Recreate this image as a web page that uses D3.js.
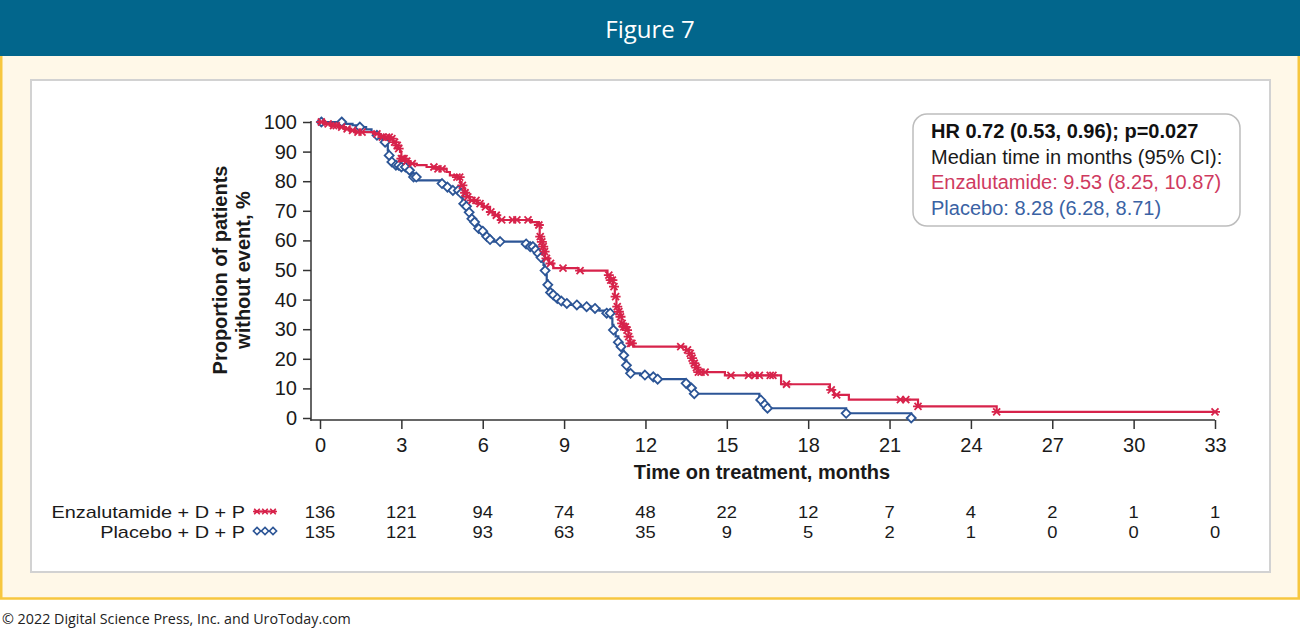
<!DOCTYPE html>
<html>
<head>
<meta charset="utf-8">
<script src="https://cdn.jsdelivr.net/npm/d3@7"></script>
<style>
  body { margin: 0; background: #fff; }
  svg { display: block; }
  .ax text { font-family: "Liberation Sans", Arial, sans-serif; font-size: 20px; fill: #1a1a1a; }
  .ax line, .ax path { stroke: #333; stroke-width: 1.5; }
</style>
</head>
<body>
<svg id="chart" width="1300" height="629"></svg>
<script>
// survival steps: [months, % without event after the step]
const enzaSteps = [
  [0, 100], [0.2, 99.4], [0.45, 98.8], [0.7, 98.3], [0.95, 97.7], [1.15, 97.2], [1.25, 96.6],
  [2.0, 96.0], [2.2, 95.4], [2.3, 94.9], [2.6, 94.4], [2.7, 93.2], [2.78, 92.1], [2.87, 91.0],
  [2.95, 89.9], [3.0, 87.6], [3.15, 86.8], [3.32, 85.9], [3.57, 85.4], [3.93, 84.8], [4.3, 84.2],
  [4.67, 83.1], [4.79, 82.0], [5.04, 81.4], [5.16, 79.7], [5.22, 78.6], [5.28, 77.5], [5.35, 76.1],
  [5.41, 74.7], [5.53, 73.5], [5.78, 72.4], [6.02, 71.3], [6.27, 69.6], [6.45, 68.5], [6.6, 66.9],
  [7.75, 66.2], [8.07, 65.2], [8.1, 61.3], [8.15, 59.5], [8.2, 57.9], [8.25, 56.2], [8.3, 53.9],
  [8.45, 52.2], [8.6, 50.6], [9.53, 49.8], [10.6, 48.3], [10.7, 46.6], [10.8, 44.4], [10.87, 41.0],
  [10.93, 37.6], [11.0, 35.9], [11.06, 34.2], [11.12, 32.0], [11.2, 30.8], [11.3, 29.7], [11.37, 27.5],
  [11.43, 25.2], [11.55, 24.1], [13.5, 23.0], [13.6, 21.8], [13.7, 20.2], [13.75, 18.5], [13.85, 17.0],
  [13.95, 15.5], [14.93, 14.4], [17.0, 11.4], [18.8, 9.5], [18.95, 7.8], [19.5, 6.2], [22.05, 3.9],
  [24.95, 2.1], [33.05, 2.1]
];
const enzaCensor = [
  0.05, 0.3, 0.5, 0.6, 0.8, 1.0, 1.2, 1.4, 1.55, 2.1, 2.3, 2.45, 2.55, 2.65, 2.75, 2.85, 2.9, 3.0,
  3.05, 3.1, 3.2, 3.4, 4.2, 4.35, 4.5, 5.05, 5.15, 5.25, 5.35, 5.45, 5.6, 5.75, 5.9, 6.1, 6.3, 6.5,
  6.7, 7.1, 7.26, 7.67, 8.07, 8.12, 8.18, 8.23, 8.28, 8.35, 8.5, 8.96, 9.59, 10.65, 10.72, 10.78,
  10.84, 10.9, 10.96, 11.02, 11.08, 11.14, 11.2, 11.26, 11.32, 11.38, 11.45, 11.5, 13.3, 13.55,
  13.65, 13.72, 13.8, 13.88, 13.95, 14.05, 14.2, 15.15, 15.8, 16.04, 16.2, 16.6, 16.7, 17.2,
  18.85, 19.05, 21.4, 21.6, 22.05, 24.95, 33.0
];
const placSteps = [
  [0, 100], [0.9, 99.4], [1.2, 98.9], [1.47, 98.3], [1.7, 97.5], [1.9, 96.6], [2.09, 95.5],
  [2.21, 94.4], [2.35, 93.2], [2.46, 92.1], [2.5, 90.4], [2.52, 88.7], [2.58, 86.5], [2.77, 85.4],
  [2.95, 84.8], [3.2, 83.7], [3.32, 82.5], [3.45, 81.4], [3.57, 80.3], [4.45, 79.2], [4.65, 78.0],
  [4.9, 76.9], [5.15, 75.9], [5.22, 75.0], [5.25, 73.7], [5.28, 72.4], [5.35, 71.5], [5.41, 70.6],
  [5.47, 69.5], [5.53, 68.5], [5.6, 67.3], [5.65, 66.2], [5.72, 65.1], [5.78, 64.0], [5.9, 63.1],
  [6.02, 62.3], [6.15, 61.3], [6.27, 60.3], [6.4, 59.6], [7.56, 58.8], [7.74, 57.9], [7.88, 56.8],
  [7.99, 55.6], [8.08, 54.2], [8.17, 52.8], [8.24, 51.7], [8.28, 49.8], [8.32, 48.3], [8.36, 46.6],
  [8.39, 45.0], [8.42, 43.2], [8.48, 42.4], [8.54, 41.6], [8.63, 41.0], [8.73, 40.4], [8.85, 39.5],
  [8.97, 38.7], [9.22, 38.2], [9.6, 37.6], [10.0, 37.0], [10.3, 36.3], [10.57, 35.4], [10.72, 33.7],
  [10.78, 31.5], [10.82, 29.7], [10.9, 27.6], [11.0, 25.6], [11.05, 24.1], [11.12, 22.8], [11.2, 21.2],
  [11.25, 19.5], [11.3, 17.8], [11.33, 16.2], [11.45, 15.1], [11.8, 14.5], [12.2, 13.9], [12.45, 13.1],
  [13.47, 11.7], [13.6, 10.1], [13.75, 8.2], [16.2, 6.1], [16.35, 4.5], [16.47, 3.3], [19.4, 1.6],
  [21.8, 0]
];
const placCensor = [
  0.05, 0.8, 1.47, 2.1, 2.4, 2.55, 2.65, 2.8, 2.9, 3.0, 3.15, 3.3, 3.45, 3.55, 4.5, 4.7, 4.9, 5.1,
  5.2, 5.3, 5.4, 5.5, 5.6, 5.7, 5.85, 6.0, 6.15, 6.27, 6.64, 7.6, 7.75, 7.85, 7.95, 8.05, 8.15, 8.3,
  8.4, 8.5, 8.6, 8.75, 8.9, 9.1, 9.47, 9.83, 10.14, 10.57, 10.7, 10.82, 11.0, 11.1, 11.2, 11.3,
  11.45, 11.98, 12.29, 12.45, 13.5, 13.7, 13.8, 16.25, 16.4, 16.5, 19.4, 21.8
];

const xTicks = [0, 3, 6, 9, 12, 15, 18, 21, 24, 27, 30, 33];
const yTicks = [0, 10, 20, 30, 40, 50, 60, 70, 80, 90, 100];
const enzaAtRisk = [136, 121, 94, 74, 48, 22, 12, 7, 4, 2, 1, 1];
const placAtRisk = [135, 121, 93, 63, 35, 9, 5, 2, 1, 0, 0, 0];

const RED = '#d7234b';
const BLUE = '#2c5596';
const XMARK = 'M-3.5,-3.5L3.5,3.5M-3.5,3.5L3.5,-3.5M-5,0L5,0';
const DIAMOND = 'M0,-4.5L4.5,0L0,4.5L-4.5,0Z';

const svg = d3.select('#chart');

// page frame
svg.append('rect').attr('x', 1.25).attr('y', 50).attr('width', 1297.5).attr('height', 548.5)
  .attr('fill', '#fff8e8').attr('stroke', '#f7c73f').attr('stroke-width', 2.5);
svg.append('rect').attr('x', 0).attr('y', 0).attr('width', 1300).attr('height', 56).attr('fill', '#02668c');
svg.append('text').attr('x', 650).attr('y', 38).attr('text-anchor', 'middle')
  .style('font-family', '"Open Sans", "Noto Sans", sans-serif').style('font-size', '24px')
  .style('font-weight', 500).attr('fill', '#fff').text('Figure 7');
svg.append('rect').attr('x', 31).attr('y', 80).attr('width', 1239).attr('height', 492)
  .attr('fill', '#fff').attr('stroke', '#d2d2d2').attr('stroke-width', 2);
svg.append('text').attr('x', 2).attr('y', 624)
  .style('font-family', '"Open Sans", "Noto Sans", sans-serif').style('font-size', '14.3px')
  .attr('fill', '#222').text('© 2022 Digital Science Press, Inc. and UroToday.com');

const x = d3.scaleLinear().domain([0, 33]).range([320, 1215]);
const y = d3.scaleLinear().domain([0, 100]).range([418, 122]);

// axes
const gy = svg.append('g').attr('class', 'ax').attr('transform', 'translate(311,0)')
  .call(d3.axisLeft(y).tickValues(yTicks).tickSize(8).tickPadding(6).tickSizeOuter(0));
gy.select('.domain').remove();
gy.append('line').attr('x1', 0).attr('x2', 0).attr('y1', 121).attr('y2', 420.75);

const gx = svg.append('g').attr('class', 'ax').attr('transform', 'translate(0,420)')
  .call(d3.axisBottom(x).tickValues(xTicks).tickSize(9).tickPadding(8.5).tickSizeOuter(0));
gx.select('.domain').remove();
gx.append('line').attr('x1', 310.25).attr('x2', x(33)).attr('y1', 0).attr('y2', 0);

const titleFont = '"Liberation Sans", Arial, sans-serif';
svg.append('text').attr('x', 762).attr('y', 479).attr('text-anchor', 'middle')
  .style('font-family', titleFont).style('font-size', '20px').style('font-weight', 'bold')
  .attr('fill', '#1a1a1a').text('Time on treatment, months');
[['Proportion of patients', 227], ['without event, %', 250]].forEach(([t, bx]) => {
  svg.append('text').attr('transform', `translate(${bx},270) rotate(-90)`).attr('text-anchor', 'middle')
    .style('font-family', titleFont).style('font-size', '20px').style('font-weight', 'bold')
    .attr('fill', '#1a1a1a').text(t);
});

// curves
function survAt(steps, t) {
  let v = steps[0][1];
  for (const s of steps) { if (s[0] <= t) v = s[1]; else break; }
  return v;
}
const stepLine = d3.line().x(d => x(d[0])).y(d => y(d[1])).curve(d3.curveStepAfter);

function drawArm(steps, censor, color, mark, fill) {
  const g = svg.append('g');
  g.append('path').attr('d', stepLine(steps)).attr('fill', 'none')
    .attr('stroke', color).attr('stroke-width', 2.2);
  g.selectAll('path.m').data(censor).join('path').attr('class', 'm')
    .attr('transform', t => `translate(${x(t)},${y(survAt(steps, t))})`)
    .attr('d', mark).attr('fill', fill).attr('stroke', color).attr('stroke-width', 1.8);
}
drawArm(placSteps, placCensor, BLUE, DIAMOND, '#fff');
drawArm(enzaSteps, enzaCensor, RED, XMARK, 'none');

// stats box
svg.append('rect').attr('x', 913).attr('y', 114).attr('width', 327).attr('height', 112).attr('rx', 14)
  .attr('fill', '#fff').attr('stroke', '#bdbdbd').attr('stroke-width', 1.5);
const boxLines = [
  ['HR 0.72 (0.53, 0.96); p=0.027', '#111', 'bold'],
  ['Median time in months (95% CI):', '#1a1a1a', 'normal'],
  ['Enzalutamide: 9.53 (8.25, 10.87)', '#cf3a5f', 'normal'],
  ['Placebo: 8.28 (6.28, 8.71)', '#3a62a4', 'normal']
];
svg.selectAll('text.box').data(boxLines).join('text').attr('class', 'box')
  .attr('x', 931).attr('y', (d, i) => 138 + i * 25.5)
  .style('font-family', titleFont).style('font-size', '20px')
  .style('font-weight', d => d[2]).attr('fill', d => d[1]).text(d => d[0]);

// number at risk (rows sit tight, so a smaller font stretched sideways)
const rows = [
  {label: 'Enzalutamide + D + P', vals: enzaAtRisk, color: RED, mark: XMARK, fill: 'none', yb: 518},
  {label: 'Placebo + D + P', vals: placAtRisk, color: BLUE, mark: DIAMOND, fill: '#fff', yb: 537.5}
];
rows.forEach(r => {
  svg.append('text').attr('transform', `translate(245,${r.yb}) scale(1.17,1)`).attr('text-anchor', 'end')
    .style('font-family', titleFont).style('font-size', '17px').attr('fill', '#1a1a1a').text(r.label);
  const my = r.yb - 6.5;
  svg.append('line').attr('x1', 254).attr('x2', 276).attr('y1', my).attr('y2', my)
    .attr('stroke', r.color).attr('stroke-width', 2);
  [257, 265, 273].forEach(mx => {
    svg.append('path').attr('d', r.mark).attr('transform', `translate(${mx},${my}) scale(0.8)`)
      .attr('fill', r.fill).attr('stroke', r.color).attr('stroke-width', 2);
  });
  svg.selectAll(null).data(r.vals).join('text')
    .attr('transform', (d, i) => `translate(${x(xTicks[i])},${r.yb}) scale(1.08,1)`)
    .attr('text-anchor', 'middle')
    .style('font-family', titleFont).style('font-size', '17px').attr('fill', '#1a1a1a').text(d => d);
});
</script>
</body>
</html>
